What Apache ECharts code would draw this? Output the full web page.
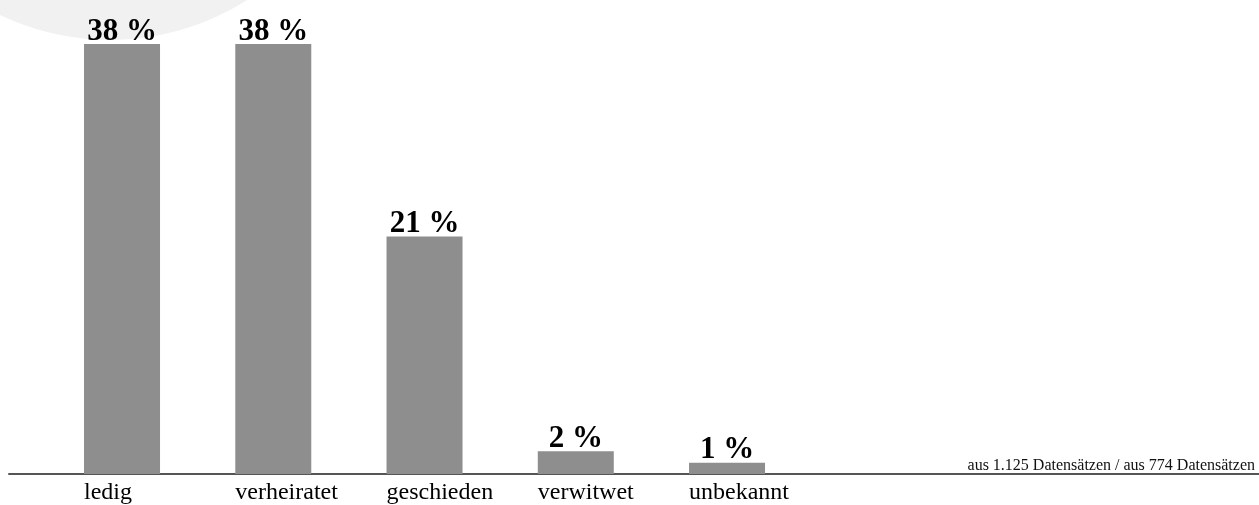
<!DOCTYPE html>
<html>
<head>
<meta charset="utf-8">
<script src="https://cdn.jsdelivr.net/npm/echarts@6/dist/echarts.min.js"></script>
<style>
html,body{margin:0;padding:0;background:#fff;}
#chart{width:1259px;height:505px;}
</style>
</head>
<body>
<div id="chart"></div>
<script>
var categories = ['ledig', 'verheiratet', 'geschieden', 'verwitwet', 'unbekannt'];
var values = [38, 38, 21, 2, 1];
var footnote = 'aus 1.125 Datensätzen / aus 774 Datensätzen';

var serif = "'Liberation Serif', 'Times New Roman', serif";
var chart = echarts.init(document.getElementById('chart'));
chart.setOption({
  animation: false,
  backgroundColor: '#ffffff',
  graphic: [
    { type: 'circle', shape: { cx: 110, cy: -215, r: 255 }, style: { fill: '#f1f1f1' }, z: -10 },
    { type: 'text', right: 4, top: 458, style: { text: footnote, font: '16px ' + serif, fill: '#111', textAlign: 'right' } }
  ],
  grid: [
    { left: 46.4, right: 2.6, top: 21.4, bottom: 31, containLabel: false, outerBoundsMode: 'none' },
    { left: 9, right: 0, top: 21.4, bottom: 31, containLabel: false, outerBoundsMode: 'none' }
  ],
  xAxis: [
    {
      type: 'category', gridIndex: 0, data: categories, max: 7,
      axisLine: { show: false }, axisTick: { show: false },
      axisLabel: {
        margin: 7, interval: 0,
        formatter: function (v) { return '{a|' + v + '}'; },
        rich: { a: { width: 76, align: 'left', fontFamily: serif, fontSize: 24, color: '#000' } }
      }
    },
    {
      type: 'value', gridIndex: 1, min: 0, max: 1,
      axisLine: { show: true, lineStyle: { color: '#555', width: 2 } },
      axisTick: { show: false }, axisLabel: { show: false }, splitLine: { show: false }
    }
  ],
  yAxis: [
    { type: 'value', gridIndex: 0, min: 0, max: 40, show: false, splitLine: { show: false } },
    { type: 'value', gridIndex: 1, min: 0, max: 1, show: false, splitLine: { show: false } }
  ],
  series: [{
    type: 'bar', xAxisIndex: 0, yAxisIndex: 0,
    data: values, barWidth: 76,
    itemStyle: { color: '#8e8e8e' },
    label: {
      show: true, position: 'top', distance: -3,
      formatter: '{c} %',
      fontFamily: serif, fontWeight: 'bold', fontSize: 31, color: '#000'
    }
  }]
});
</script>
</body>
</html>
